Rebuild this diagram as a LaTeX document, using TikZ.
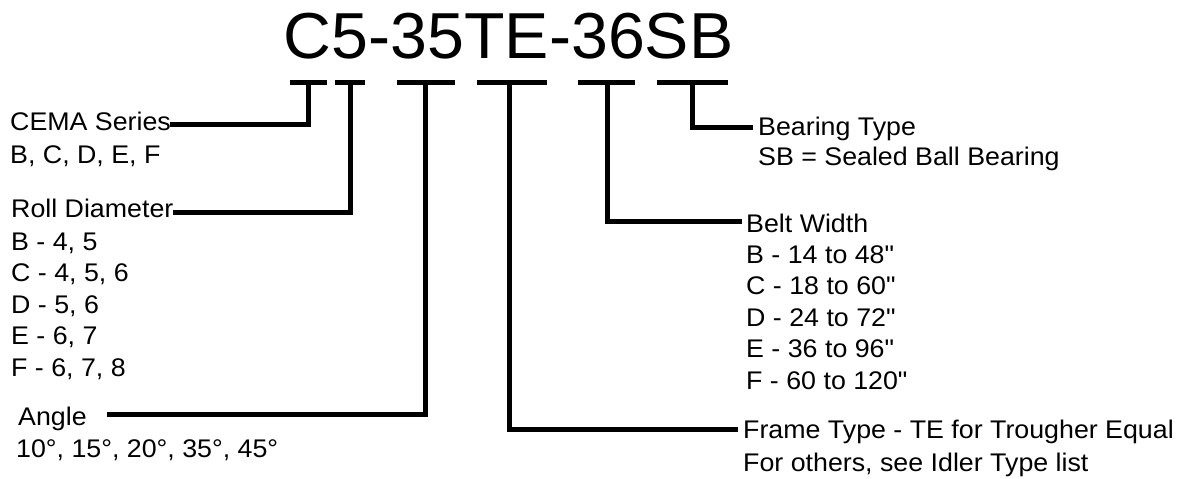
\documentclass[tikz,border=0pt]{standalone}
\usepackage{fontspec}
\setmainfont{Liberation Sans}[FakeStretch=1.05,Ligatures=TeXOff]
\newfontfamily\lblfont{Liberation Sans}[FakeStretch=1.05,Ligatures=TeXOff]
\newfontfamily\titlefont{Liberation Sans}[FakeStretch=1.02,Ligatures=TeXOff]
\begin{document}
\begin{tikzpicture}[x=1pt,y=-1pt,
  lbl/.style={inner sep=0pt, anchor=base west, font=\lblfont\fontsize{25.5}{31.5}\selectfont},
  ttl/.style={inner sep=0pt, anchor=base west, font=\titlefont\fontsize{65}{70}\selectfont},
  bar/.style={line width=5pt},
  conn/.style={line width=5pt, line join=miter}]
\useasboundingbox[fill=white] (0,0) rectangle (1181,479);

% title
\node[ttl] (title) at (283.7,58) {C5-35TE-36SB};

% bars under the code groups
\draw[bar] (290,82.5) -- (327,82.5);
\draw[bar] (335,82.5) -- (365,82.5);
\draw[bar] (397,82.5) -- (455,82.5);
\draw[bar] (477,82.5) -- (547,82.5);
\draw[bar] (578,82.5) -- (635,82.5);
\draw[bar] (657,82.5) -- (728,82.5);

\coordinate (t1) at (308.5,82.5);
\coordinate (t2) at (350,82.5);
\coordinate (t3) at (425,82.5);
\coordinate (t4) at (509,82.5);
\coordinate (t5) at (607,82.5);
\coordinate (t6) at (692,82.5);

% left labels
\node[lbl] (cema) at (10,130) {CEMA Series};
\node[lbl] (cemalist) at (10,163) {B, C, D, E, F};
\node[lbl] (roll) at (11,217) {Roll Diameter};
\node[lbl] (rolllist) at (11,250) {\begin{tabular}[t]{@{}l@{}}B - 4, 5\\C - 4, 5, 6\\D - 5, 6\\E - 6, 7\\F - 6, 7, 8\end{tabular}};
\node[lbl] (angle) at (18,425) {Angle};
\node[lbl] (anglelist) at (16,457) {10°, 15°, 20°, 35°, 45°};

% right labels
\node[lbl] (bear) at (758,135) {Bearing Type};
\node[lbl] (bearlist) at (758,165) {SB = Sealed Ball Bearing};
\node[lbl] (belt) at (746,232) {Belt Width};
\node[lbl] (beltlist) at (746,263) {\begin{tabular}[t]{@{}l@{}}B - 14 to 48"\\C - 18 to 60"\\D - 24 to 72"\\E - 36 to 96"\\F - 60 to 120"\end{tabular}};
\node[lbl] (frame) at (743,438) {Frame Type - TE for Trougher Equal};
\node[lbl] (framelist) at (743,471) {For others, see Idler Type list};

% connector ends
\coordinate (cemaL) at (170,124);
\coordinate (rollL) at (173,212.5);
\coordinate (angleL) at (107,414.5);
\coordinate (frameR) at (738,429.5);
\coordinate (beltR) at (742,221);
\coordinate (bearR) at (753,127);

% connectors
\draw[conn] (cemaL) -| (t1);
\draw[conn] (rollL) -| (t2);
\draw[conn] (angleL) -| (t3);
\draw[conn] (t4) |- (frameR);
\draw[conn] (t5) |- (beltR);
\draw[conn] (t6) |- (bearR);
\end{tikzpicture}
\end{document}
